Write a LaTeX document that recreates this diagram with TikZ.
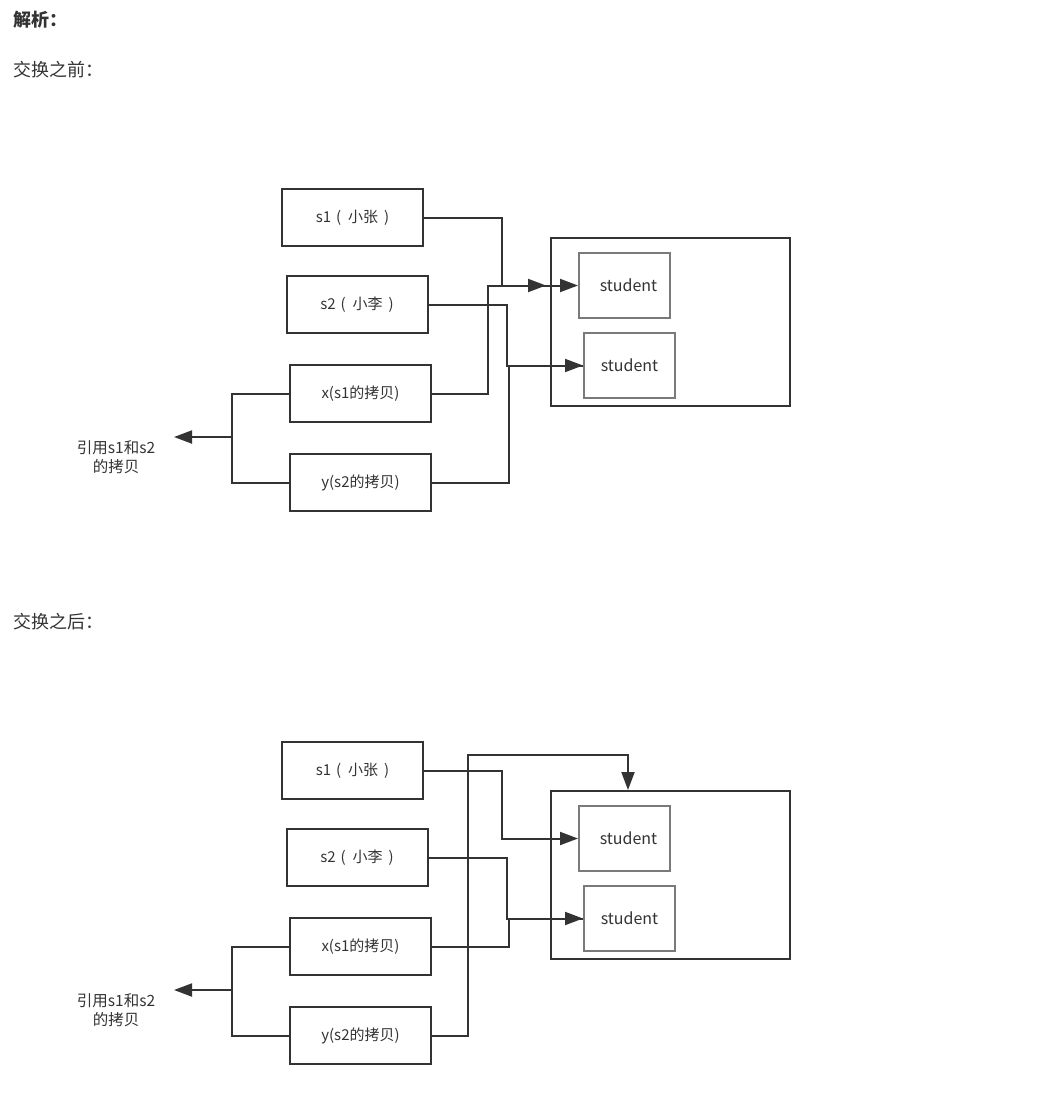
\documentclass[tikz,border=0pt]{standalone}
\usepackage{fontspec}
\setmainfont{Noto Sans CJK SC}
\usetikzlibrary{arrows.meta,positioning}
\definecolor{lnkdark}{HTML}{333333}
\definecolor{stugray}{HTML}{7A7A7A}
\tikzset{
  varbox/.style={draw=lnkdark, line width=2pt, minimum width=141pt, minimum height=57pt,
    inner sep=0pt, text=lnkdark, font=\fontsize{15}{18}\selectfont},
  heapbox/.style={draw=lnkdark, line width=2pt, minimum width=239pt, minimum height=168pt,
    inner sep=0pt},
  stubox/.style={draw=stugray, line width=2pt, minimum width=91pt, minimum height=65pt,
    inner sep=0pt, text=lnkdark, font=\fontsize{16}{19}\selectfont},
  reflabel/.style={align=center, text=lnkdark, font=\fontsize{15.5}{19}\selectfont},
  headtext/.style={anchor=west, inner sep=0pt, text=lnkdark, font=\fontsize{18}{21}\selectfont},
  wire/.style={draw=lnkdark, line width=2pt},
  arr/.style={wire, -{Triangle[length=18pt,width=13pt]}}
}
\begin{document}
\begin{tikzpicture}[x=1pt,y=-1pt]
  \useasboundingbox (0,0) rectangle (1044,1103);
  \node[headtext] (headline) at (13,20) {\bfseries 解析：};
  \node[headtext] (beforehead) at (13,70) {交换之前：};
  \node[headtext] (afterhead) at (13,622) {交换之后：};

  % before the swap
  \node[varbox] (s1a) at (352.5,217.5) {s1\hspace{5pt}(\hspace{7pt}小张\hspace{6pt})};
  \node[varbox] (s2a) at (357,304.5) {s2\hspace{5pt}(\hspace{7pt}小李\hspace{6pt})};
  \node[varbox] (xa) at (360.5,393.5) {x(s1的拷贝)};
  \node[varbox] (ya) at (360.5,482.5) {y(s2的拷贝)};
  \node[heapbox] (heapa) at (670.5,322) {};
  \node[stubox] (stua) at (624.5,285.5) {\hspace*{8pt}student};
  \node[stubox] (stub) at (629.5,365.5) {student};
  \node[reflabel] (refa) at (116,457) {引用s1和s2\\的拷贝};
  \coordinate (s1tip) at (546,285.5);
  \coordinate (brka) at (233,437);
  \coordinate (reftipa) at (174,437);
  \draw[arr] (s1a.east) -- ++(78,0) |- (s1tip);
  \draw[arr] (xa.east) -- ++(56,0) |- (stua.west);
  \draw[arr] (s2a.east) -- ++(78,0) |- (stub.west);
  \draw[wire] (ya.east) -- ++(77,0) |- (stub.west);
  \draw[wire] (xa.west) -- ++(-57,0) |- (ya.west);
  \draw[arr] (brka) -- (reftipa);

  % after the swap
  \node[varbox] (s1b) at (352.5,770.5) {s1\hspace{5pt}(\hspace{7pt}小张\hspace{6pt})};
  \node[varbox] (s2b) at (357,857.5) {s2\hspace{5pt}(\hspace{7pt}小李\hspace{6pt})};
  \node[varbox] (xb) at (360.5,946.5) {x(s1的拷贝)};
  \node[varbox] (yb) at (360.5,1035.5) {y(s2的拷贝)};
  \node[heapbox] (heapb) at (670.5,875) {};
  \node[stubox] (stuc) at (624.5,838.5) {\hspace*{8pt}student};
  \node[stubox] (stud) at (629.5,918.5) {student};
  \node[reflabel] (refb) at (116,1010) {引用s1和s2\\的拷贝};
  \coordinate (ytop) at (628,755);
  \coordinate (brkb) at (233,990);
  \coordinate (reftipb) at (174,990);
  \draw[arr] (s1b.east) -- ++(78,0) |- (stuc.west);
  \draw[arr] (s2b.east) -- ++(78,0) |- (stud.west);
  \draw[wire] (xb.east) -- ++(77,0) |- (stud.west);
  \draw[arr] (yb.east) -- ++(36,0) |- (ytop) -- (ytop |- heapb.north);
  \draw[wire] (xb.west) -- ++(-57,0) |- (yb.west);
  \draw[arr] (brkb) -- (reftipb);
\end{tikzpicture}
\end{document}
